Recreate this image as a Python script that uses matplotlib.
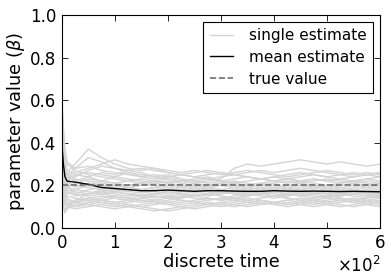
import numpy as np
import matplotlib
matplotlib.use('Agg')
from matplotlib import pyplot as plt

# time steps at which the estimates were read off
t = [0, 3, 6, 10, 25, 50, 75, 100, 125, 150, 175, 200, 225, 250, 275,
     300, 325, 350, 375, 400, 425, 450, 475, 500, 525, 550, 575, 600]

# single estimates (one row per run)
single = [
    [0.58,0.45,0.32,0.27,0.25,0.24,0.22,0.21,0.20,0.21,0.22,0.21,0.20,0.19,0.20,0.21,0.22,0.21,0.20,0.19,0.20,0.21,0.20,0.19,0.18,0.19,0.20,0.19],
    [0.35,0.25,0.18,0.15,0.14,0.13,0.14,0.15,0.14,0.13,0.12,0.13,0.14,0.15,0.14,0.13,0.14,0.15,0.16,0.15,0.14,0.13,0.14,0.15,0.14,0.13,0.14,0.15],
    [0.42,0.30,0.26,0.24,0.28,0.33,0.31,0.28,0.27,0.26,0.24,0.23,0.22,0.23,0.24,0.22,0.21,0.22,0.23,0.22,0.21,0.22,0.23,0.22,0.21,0.22,0.21,0.20],
    [0.20,0.12,0.08,0.10,0.12,0.14,0.13,0.12,0.11,0.10,0.11,0.12,0.13,0.12,0.11,0.12,0.13,0.12,0.11,0.12,0.13,0.14,0.13,0.12,0.13,0.12,0.11,0.12],
    [0.50,0.38,0.30,0.25,0.22,0.20,0.19,0.18,0.17,0.18,0.19,0.18,0.17,0.18,0.19,0.20,0.21,0.20,0.19,0.18,0.17,0.18,0.19,0.18,0.17,0.18,0.17,0.18],
    [0.30,0.22,0.17,0.16,0.18,0.20,0.22,0.24,0.26,0.25,0.24,0.25,0.23,0.22,0.21,0.22,0.21,0.20,0.21,0.22,0.23,0.22,0.21,0.20,0.21,0.22,0.23,0.22],
    [0.45,0.33,0.23,0.20,0.16,0.15,0.16,0.15,0.14,0.15,0.16,0.15,0.14,0.15,0.16,0.17,0.16,0.15,0.16,0.17,0.16,0.15,0.16,0.17,0.18,0.17,0.16,0.17],
    [0.25,0.18,0.14,0.12,0.10,0.11,0.12,0.11,0.10,0.09,0.08,0.09,0.10,0.11,0.12,0.11,0.12,0.13,0.12,0.11,0.10,0.11,0.12,0.11,0.10,0.11,0.12,0.11],
    [0.55,0.42,0.35,0.30,0.27,0.25,0.24,0.23,0.22,0.21,0.22,0.23,0.22,0.21,0.22,0.23,0.28,0.30,0.29,0.30,0.31,0.32,0.31,0.30,0.31,0.30,0.29,0.30],
    [0.38,0.28,0.21,0.18,0.17,0.16,0.17,0.18,0.19,0.18,0.17,0.16,0.17,0.18,0.17,0.16,0.17,0.18,0.17,0.16,0.15,0.16,0.17,0.16,0.15,0.16,0.15,0.16],
    [0.33,0.27,0.24,0.22,0.24,0.27,0.29,0.28,0.26,0.24,0.23,0.24,0.25,0.24,0.23,0.24,0.25,0.24,0.23,0.22,0.23,0.24,0.25,0.24,0.23,0.24,0.25,0.24],
    [0.15,0.10,0.07,0.09,0.11,0.12,0.13,0.14,0.13,0.12,0.13,0.14,0.15,0.14,0.13,0.14,0.15,0.16,0.15,0.14,0.15,0.16,0.15,0.14,0.15,0.16,0.15,0.14],
    [0.48,0.36,0.27,0.22,0.19,0.21,0.20,0.19,0.20,0.21,0.20,0.19,0.18,0.19,0.18,0.17,0.18,0.19,0.18,0.17,0.18,0.19,0.20,0.19,0.20,0.21,0.20,0.21],
    [0.40,0.30,0.24,0.26,0.30,0.37,0.33,0.30,0.28,0.27,0.28,0.26,0.25,0.24,0.25,0.26,0.25,0.24,0.23,0.24,0.25,0.26,0.25,0.24,0.25,0.26,0.25,0.26],
    [0.28,0.20,0.15,0.13,0.12,0.13,0.12,0.11,0.12,0.13,0.12,0.11,0.10,0.09,0.10,0.11,0.10,0.11,0.12,0.11,0.12,0.11,0.10,0.11,0.12,0.13,0.12,0.13],
    [0.52,0.40,0.31,0.26,0.23,0.22,0.21,0.20,0.19,0.20,0.21,0.22,0.21,0.20,0.19,0.18,0.19,0.20,0.21,0.20,0.19,0.20,0.19,0.18,0.19,0.20,0.19,0.20],
    [0.36,0.26,0.19,0.17,0.15,0.16,0.17,0.16,0.15,0.16,0.15,0.14,0.15,0.16,0.15,0.16,0.17,0.16,0.17,0.18,0.17,0.16,0.17,0.18,0.17,0.16,0.17,0.16],
    [0.44,0.34,0.28,0.25,0.26,0.28,0.30,0.32,0.30,0.29,0.28,0.27,0.26,0.27,0.26,0.25,0.26,0.27,0.26,0.25,0.24,0.25,0.26,0.27,0.26,0.25,0.26,0.25],
    [0.22,0.15,0.11,0.10,0.09,0.10,0.11,0.10,0.11,0.10,0.09,0.08,0.09,0.10,0.11,0.12,0.11,0.10,0.11,0.12,0.11,0.12,0.13,0.12,0.11,0.10,0.11,0.10],
    [0.46,0.35,0.26,0.21,0.20,0.19,0.18,0.17,0.18,0.17,0.16,0.17,0.18,0.17,0.16,0.17,0.16,0.17,0.18,0.19,0.18,0.17,0.18,0.17,0.16,0.17,0.18,0.17],
    [0.34,0.24,0.20,0.19,0.21,0.23,0.22,0.21,0.22,0.23,0.22,0.21,0.22,0.21,0.20,0.21,0.20,0.19,0.20,0.21,0.22,0.21,0.22,0.23,0.22,0.21,0.22,0.21],
    [0.26,0.19,0.13,0.11,0.13,0.14,0.15,0.14,0.13,0.14,0.15,0.14,0.13,0.12,0.13,0.14,0.13,0.14,0.13,0.12,0.13,0.12,0.13,0.14,0.13,0.14,0.13,0.12],
    [0.60,0.48,0.37,0.31,0.28,0.29,0.27,0.26,0.25,0.24,0.25,0.24,0.23,0.22,0.23,0.22,0.23,0.24,0.23,0.24,0.23,0.22,0.23,0.22,0.23,0.22,0.23,0.24],
    [0.39,0.29,0.22,0.19,0.18,0.17,0.16,0.17,0.16,0.15,0.14,0.15,0.16,0.17,0.18,0.17,0.18,0.17,0.16,0.15,0.16,0.17,0.16,0.15,0.16,0.17,0.16,0.15],
    [0.18,0.11,0.08,0.10,0.13,0.16,0.18,0.17,0.16,0.17,0.18,0.17,0.16,0.15,0.16,0.15,0.14,0.15,0.16,0.17,0.16,0.15,0.14,0.15,0.16,0.15,0.14,0.15],
    [0.43,0.32,0.25,0.23,0.25,0.26,0.25,0.24,0.23,0.22,0.21,0.20,0.19,0.20,0.19,0.20,0.19,0.18,0.19,0.18,0.19,0.18,0.19,0.20,0.19,0.18,0.19,0.18],
    [0.31,0.23,0.16,0.14,0.12,0.11,0.10,0.09,0.10,0.11,0.12,0.11,0.12,0.13,0.14,0.13,0.14,0.13,0.14,0.15,0.14,0.13,0.12,0.13,0.14,0.13,0.12,0.13],
    [0.49,0.37,0.29,0.24,0.22,0.24,0.26,0.25,0.27,0.28,0.27,0.26,0.25,0.26,0.27,0.26,0.25,0.26,0.27,0.26,0.27,0.28,0.27,0.26,0.25,0.24,0.25,0.26],
    [0.37,0.27,0.20,0.17,0.16,0.18,0.19,0.20,0.19,0.18,0.19,0.20,0.19,0.18,0.19,0.18,0.17,0.18,0.17,0.18,0.19,0.18,0.17,0.16,0.17,0.18,0.17,0.18],
    [0.24,0.16,0.12,0.11,0.10,0.12,0.13,0.12,0.13,0.14,0.13,0.12,0.11,0.12,0.11,0.10,0.11,0.12,0.13,0.12,0.11,0.12,0.11,0.12,0.13,0.12,0.13,0.14],
]

# mean estimate
mean_est = [0.40, 0.30, 0.24, 0.22, 0.215, 0.205, 0.19, 0.185, 0.18, 0.175,
            0.175, 0.178, 0.175, 0.172, 0.175, 0.175, 0.173, 0.172, 0.172,
            0.175, 0.173, 0.172, 0.173, 0.172, 0.171, 0.172, 0.171, 0.17]

true_value = 0.2

plt.rcParams['font.family'] = 'DejaVu Sans'
plt.rcParams['xtick.direction'] = 'in'
plt.rcParams['ytick.direction'] = 'in'
plt.rcParams['xtick.top'] = True
plt.rcParams['ytick.right'] = True

fig = plt.figure(figsize=(3.91, 2.77), dpi=100)
ax = fig.add_axes([0.158, 0.177, 0.814, 0.769])

for i, row in enumerate(single):
    ax.plot(t, row, color='#d4d4d4', lw=1.0,
            label='single estimate' if i == 0 else None)
ax.plot(t, mean_est, color='k', lw=1.0, label='mean estimate')
ax.axhline(true_value, color='#707070', ls='--', lw=1.2, label='true value')

ax.set_xlim(0, 600)
ax.set_ylim(0, 1.0)
ax.set_yticks([0.0, 0.2, 0.4, 0.6, 0.8, 1.0])
ax.ticklabel_format(style='sci', axis='x', scilimits=(0, 0), useMathText=True)
ax.tick_params(labelsize=12, length=4, width=0.6, pad=4)
ax.xaxis.get_offset_text().set_fontsize(12)
for s in ax.spines.values():
    s.set_linewidth(0.8)

ax.set_xlabel('discrete time', fontsize=12.8, labelpad=1)
ax.set_ylabel(r'parameter value ($\beta$)', fontsize=12.8, labelpad=2)

leg = ax.legend(loc='upper right', fontsize=11, fancybox=False,
                framealpha=1, edgecolor='k', borderaxespad=0.45,
                handlelength=1.5, handletextpad=1.1, borderpad=0.4,
                labelspacing=0.45)
leg.get_frame().set_linewidth(0.8)

fig.savefig('out.png', dpi=100)
